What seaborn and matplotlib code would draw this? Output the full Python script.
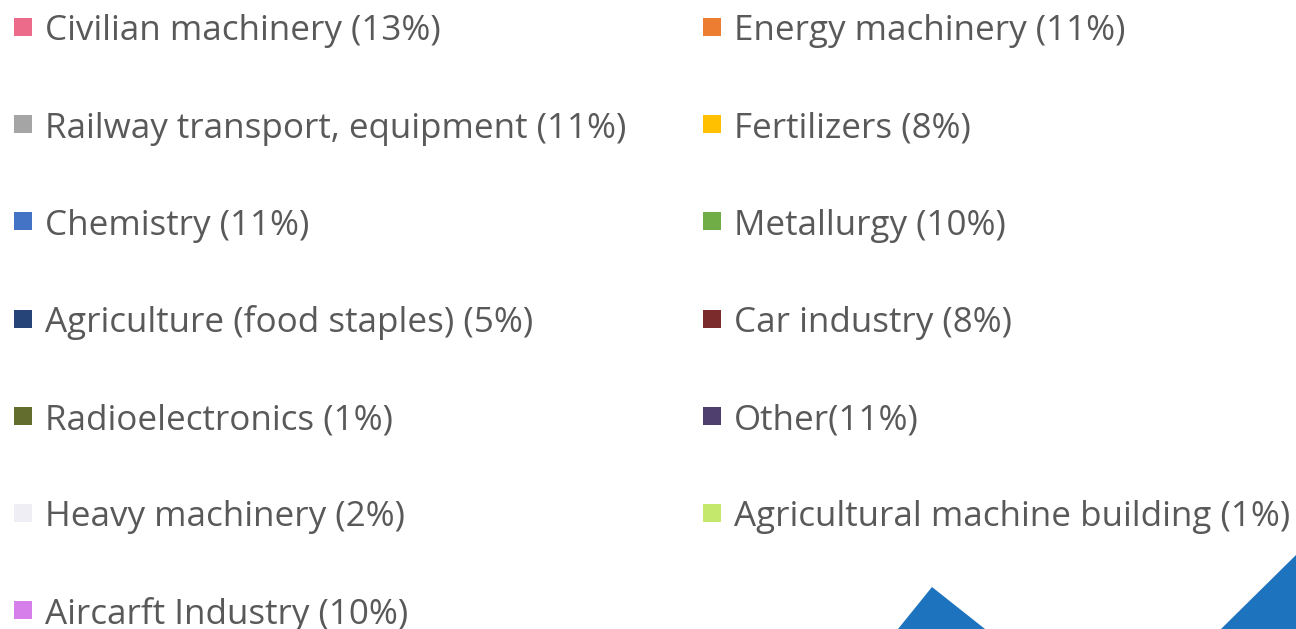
import pandas as pd
import matplotlib.pyplot as plt
import seaborn as sns
from matplotlib.patches import Polygon

# legend entries, read left column first then right column
labels_left = ["Civilian machinery (13%)", "Railway transport, equipment (11%)", "Chemistry (11%)",
               "Agriculture (food staples) (5%)", "Radioelectronics (1%)", "Heavy machinery (2%)",
               "Aircarft Industry (10%)"]
colors_left = ["#EC6A8A", "#A5A5A5", "#4472C4", "#264478", "#636E2E", "#EFEEF5", "#D67FEA"]
labels_right = ["Energy machinery (11%)", "Fertilizers (8%)", "Metallurgy (10%)", "Car industry (8%)",
                "Other(11%)", "Agricultural machine building (1%)"]
colors_right = ["#ED7D31", "#FFC000", "#70AD47", "#7B2B2B", "#4E3F6E", "#C4E86C"]

rows = []
for i, (l, c) in enumerate(zip(labels_left, colors_left)):
    rows.append({"label": l, "color": c, "col": 0, "row": i})
for i, (l, c) in enumerate(zip(labels_right, colors_right)):
    rows.append({"label": l, "color": c, "col": 1, "row": i})
df = pd.DataFrame(rows)
df["x"] = 23 + df["col"] * 689
df["y"] = 27 + df["row"] * 97.2

sns.set_style("white")
plt.rcParams["font.family"] = ["Open Sans", "DejaVu Sans"]

fig = plt.figure(figsize=(12.96, 6.29), dpi=100)
ax = fig.add_axes([0, 0, 1, 1])
ax.set_xlim(0, 1296)
ax.set_ylim(629, 0)
ax.axis("off")

sns.scatterplot(data=df, x="x", y="y", hue="label", palette=dict(zip(df["label"], df["color"])),
                marker="s", s=168, linewidth=0, legend=False, ax=ax)

for _, r in df.iterrows():
    ax.text(r["x"] + 22, r["y"] + 13.5, r["label"], fontsize=25.2, color="#595959", va="baseline", ha="left")

# blue shapes at the bottom right
ax.add_patch(Polygon([(898, 629), (932, 587), (985, 629)], closed=True, color="#1E73BE", lw=0))
ax.add_patch(Polygon([(1221, 629), (1296, 555), (1296, 629)], closed=True, color="#1E73BE", lw=0))

fig.savefig("out.png", dpi=100)
